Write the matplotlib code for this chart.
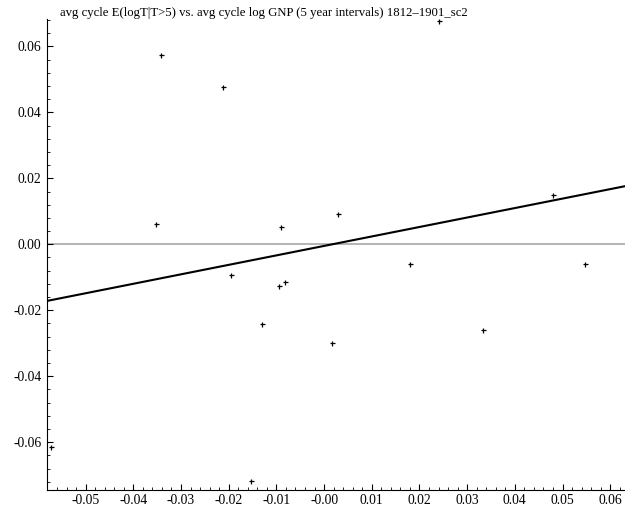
import numpy as np
import matplotlib.pyplot as plt
from matplotlib.ticker import MultipleLocator, FormatStrFormatter

# avg cycle log GNP (x) vs avg cycle E(logT|T>5) (y)
gnp = [-0.0342, -0.0212, -0.0352, -0.0090, 0.0029, -0.0196, -0.0094, -0.0081, -0.0131,
       0.0017, 0.0180, 0.0333, 0.0480, 0.0548, -0.0572, -0.0154, 0.0240]
elogt = [0.0574, 0.0478, 0.0061, 0.0053, 0.0091, -0.0094, -0.0127, -0.0115, -0.0242,
         -0.0300, -0.0060, -0.0260, 0.0150, -0.0059, -0.0614, -0.0718, 0.0676]

# fitted line
slope = 0.287
intercept = -0.0005

title = "avg cycle E(logT|T>5) vs. avg cycle log GNP (5 year intervals) 1812\u20131901_sc2"

plt.rcParams['font.family'] = ['Liberation Serif', 'DejaVu Serif']

fig = plt.figure(figsize=(6.25, 5.08), dpi=100)
ax = fig.add_axes([47/625, 18/508, 578/625, 471/508])

xmin, xmax = -0.0581, 0.0631
ymin, ymax = -0.0745, 0.0683

ax.axhline(0, color='#a0a0a0', lw=1.1, zorder=1)
xs = np.array([xmin, xmax])
ax.plot(xs, intercept + slope*xs, color='black', lw=1.5, zorder=2)
ax.plot(gnp, elogt, '+', color='black', ms=3.6, mew=0.9, zorder=3, clip_on=False)

ax.set_xlim(xmin, xmax)
ax.set_ylim(ymin, ymax)
ax.spines['top'].set_visible(False)
ax.spines['right'].set_visible(False)
ax.spines['left'].set_linewidth(0.8)
ax.spines['bottom'].set_linewidth(0.8)

ax.xaxis.set_major_locator(MultipleLocator(0.01))
ax.xaxis.set_minor_locator(MultipleLocator(0.002))
ax.yaxis.set_major_locator(MultipleLocator(0.02))
ax.yaxis.set_minor_locator(MultipleLocator(0.004))
ax.xaxis.set_major_formatter(FormatStrFormatter('%.2f'))
ax.yaxis.set_major_formatter(FormatStrFormatter('%.2f'))
ax.tick_params(which='major', direction='in', length=4.5, width=0.8, labelsize=9.8)
ax.tick_params(axis='x', which='major', pad=3)
ax.tick_params(axis='y', which='major', pad=4)
ax.tick_params(which='minor', direction='in', length=2.2, width=0.6)

fig.text(60/625, 1 - 13/508, title, fontsize=9.2, ha='left', va='center')

fig.savefig('out.png', dpi=100)
